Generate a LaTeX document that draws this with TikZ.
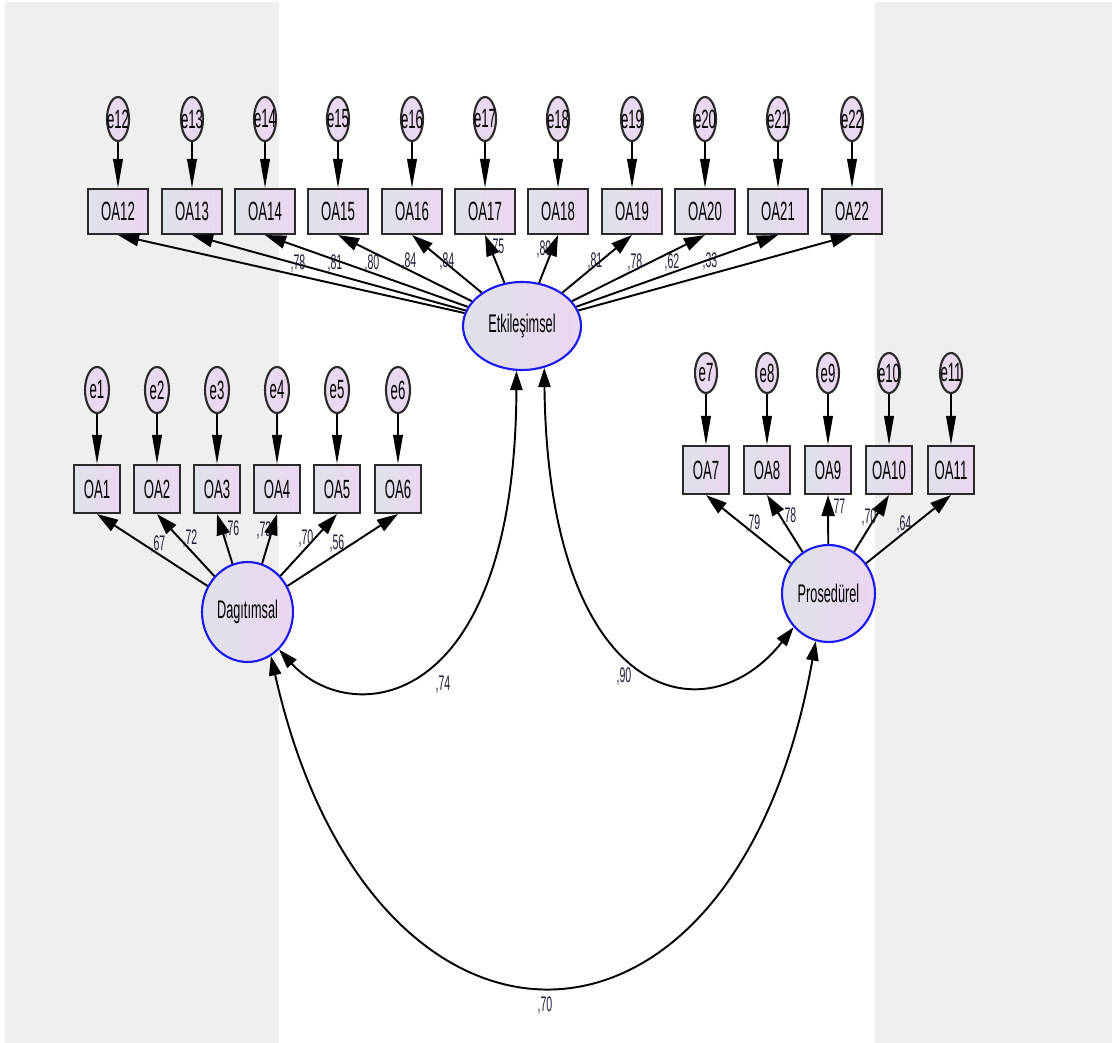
\documentclass[tikz,border=0pt]{standalone}
\usepackage{fontspec}
\setmainfont{Liberation Sans}[FakeStretch=0.5]
\usetikzlibrary{shapes.geometric,arrows.meta}

\definecolor{bggray}{HTML}{EFEFEF}
\definecolor{fillL}{HTML}{DEE2EA}
\definecolor{fillR}{HTML}{EBD6F0}
\definecolor{latblue}{HTML}{1A1AF0}
\definecolor{edgegray}{HTML}{2A2A2A}
\definecolor{numcol}{HTML}{1E1E3C}

% zero-width text so that the label never enlarges its shape
\newcommand{\zw}[1]{\makebox[0pt][c]{#1}}

\begin{document}
\begin{tikzpicture}[x=0.02cm,y=-0.02cm,
  obsbox/.style={rectangle, draw=edgegray, line width=1.2pt, left color=fillL, right color=fillR,
    inner sep=0pt, text=black, font=\fontsize{15}{15}\selectfont},
  topbox/.style={obsbox, minimum width=1.2cm, minimum height=0.9cm},
  sidebox/.style={obsbox, minimum width=0.92cm, minimum height=0.96cm},
  errc/.style={ellipse, draw=edgegray, line width=1.2pt, left color=fillL!40!fillR, right color=fillR,
    inner sep=0pt, text=black, font=\fontsize{15}{15}\selectfont},
  errtop/.style={errc, minimum width=0.44cm, minimum height=0.88cm},
  errleft/.style={errc, minimum width=0.48cm, minimum height=0.92cm},
  errright/.style={errc, minimum width=0.44cm, minimum height=0.80cm},
  latent/.style={ellipse, draw=latblue, line width=1.2pt, left color=fillL, right color=fillR,
    inner sep=0pt, text=black, font=\fontsize{14.5}{14.5}\selectfont},
  num/.style={inner sep=0pt, text=numcol, font=\fontsize{12}{12}\selectfont},
  loadarr/.style={-{Triangle[length=12pt,width=7.5pt]}, line width=1.1pt, draw=black, fill=black},
  errarr/.style={-{Triangle[length=16.5pt,width=5.5pt]}, line width=0.9pt, draw=black},
  covarr/.style={{Triangle[length=11pt,width=7pt]}-{Triangle[length=11pt,width=7pt]}, line width=1.1pt, draw=black}
]
% background panels
\fill[white] (0,0) rectangle (1114,1043);
\fill[bggray] (5,2) rectangle (279,1043);
\fill[bggray] (875,2) rectangle (1112,1043);
\useasboundingbox (0,0) rectangle (1114,1043);

% latent factors
\node[latent, minimum width=2.36cm, minimum height=1.76cm] (etk) at (522,326) {\zw{Etkileşimsel}};
\node[latent, minimum width=1.82cm, minimum height=2.0cm] (dag) at (247.5,612) {\zw{Dagıtımsal}};
\node[latent, minimum width=1.86cm, minimum height=1.94cm] (pro) at (828.5,593.5) {\zw{Prosedürel}};

% Etkileşimsel indicators
\foreach \i/\x in {12/118,13/192,14/265,15/338,16/412,17/485,18/558,19/632,20/705,21/778,22/852}{
  \node[errtop] (e\i) at (\x,119) {\zw{e\i}};
  \node[topbox] (oa\i) at (\x,211.5) {OA\i};
  \draw[errarr] (e\i) -- (oa\i);
  \draw[loadarr] (etk) -- (oa\i.south);
}

% Dagıtımsal indicators
\foreach \i/\x in {1/97,2/157,3/217,4/277,5/337,6/398}{
  \node[errleft] (e\i) at (\x,390) {\zw{e\i}};
  \node[sidebox] (oa\i) at (\x,489) {OA\i};
  \draw[errarr] (e\i) -- (oa\i);
  \draw[loadarr] (dag) -- (oa\i.south);
}

% Prosedürel indicators
\foreach \i/\x in {7/706,8/767,9/828,10/889,11/951}{
  \node[errright] (e\i) at (\x,373) {\zw{e\i}};
  \node[sidebox] (oa\i) at (\x,470) {OA\i};
  \draw[errarr] (e\i) -- (oa\i);
  \draw[loadarr] (pro) -- (oa\i.south);
}

% standardized loadings
\foreach \n/\x/\y/\v in {12/298/263/78,13/335/263/81,14/372/263/80,15/409/261/84,16/447/261/84,
    17/497/248/75,18/544/249/80,19/595/261/81,20/635/262/78,21/672/262/62,22/710/261/33,
    1/158/544/67,2/190/538/72,3/232/529/76,4/264/530/73,5/306/538/70,6/337/543/56,
    7/753/523/79,8/789/516/78,9/838/508/77,10/869/517/70,11/904/524/64}{
  \node[num] (w\n) at (\x,\y) {,\v};
}

% factor covariances
\draw[covarr] (dag.-50) .. controls (350,728) and (515,715) .. (etk.-97);
\draw[covarr] (etk.-62) .. controls (548,700) and (705,740) .. (pro.-136);
\draw[covarr] (dag.-62) .. controls (370,1097) and (735,1097) .. (pro.-105);

\node[num] (c74) at (443,685) {,74};
\node[num] (c90) at (624,676) {,90};
\node[num] (c70) at (545,1005) {,70};
\end{tikzpicture}
\end{document}
